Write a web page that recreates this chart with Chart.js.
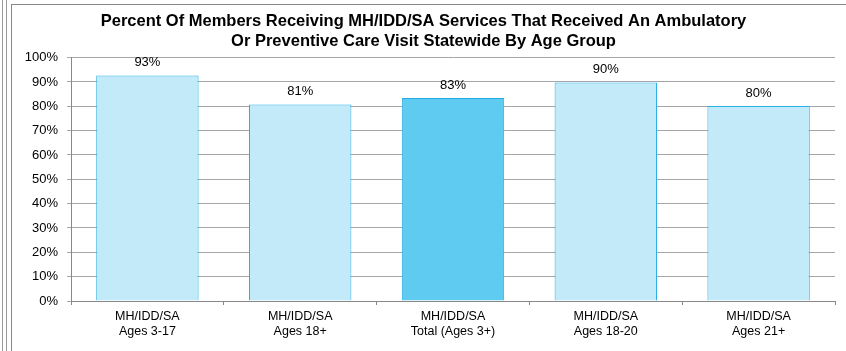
<!DOCTYPE html>
<html>
<head>
<meta charset="utf-8">
<script src="https://cdn.jsdelivr.net/npm/chart.js@4"></script>
<style>
  html, body { margin: 0; padding: 0; background: #fff; }
  body { width: 846px; height: 351px; position: relative; overflow: hidden; }
  .edge1 { position: absolute; left: 2px; top: 0; width: 1px; height: 351px; background: #999; }
  .edge2 { position: absolute; left: 6px; top: 0; width: 1px; height: 351px; background: #999; }
  .frame { position: absolute; left: 11px; top: 4px; width: 835px; height: 347px;
           border-left: 1px solid #888; border-top: 1px solid #888; box-sizing: border-box; }
  #wrap { position: absolute; left: 12px; top: 5px; width: 834px; height: 346px; }
</style>
</head>
<body>
<div class="edge1"></div>
<div class="edge2"></div>
<div class="frame"></div>
<div id="wrap"><canvas id="ambulatoryChart"></canvas></div>
<script>
Chart.defaults.font.family = 'Arial, "Liberation Sans", sans-serif'
Chart.defaults.color = '#000'

const groups = [
    ['MH/IDD/SA', 'Ages 3-17'],
    ['MH/IDD/SA', 'Ages 18+'],
    ['MH/IDD/SA', 'Total (Ages 3+)'],
    ['MH/IDD/SA', 'Ages 18-20'],
    ['MH/IDD/SA', 'Ages 21+']
]
const percents = [92.6, 80.7, 83.4, 89.8, 80.1]
const percentLabels = ['93%', '81%', '83%', '90%', '80%']
const yTicks = [0, 10, 20, 30, 40, 50, 60, 70, 80, 90, 100]

const fillColors = ['#c3eaf9', '#c3eaf9', '#5fcbf1', '#c3eaf9', '#c3eaf9']
const edgeColors = ['#26b0e6', '#26b0e6', '#22ace2', '#26b0e6', '#26b0e6']

// labels above the bars
const valueLabels = {
    id: 'valueLabels',
    afterDatasetsDraw(chart) {
        const ctx = chart.ctx
        const meta = chart.getDatasetMeta(0)
        ctx.save()
        ctx.font = '13px Arial, "Liberation Sans", sans-serif'
        ctx.fillStyle = '#000'
        ctx.textAlign = 'center'
        ctx.textBaseline = 'middle'
        meta.data.forEach((bar, i) => {
            ctx.fillText(percentLabels[i], bar.x, bar.y - 13)
        })
        ctx.restore()
    }
}

const renderChart = () => {
    const data = {
        labels: groups,
        datasets: [{
            data: percents,
            backgroundColor: fillColors,
            borderColor: edgeColors,
            borderWidth: 1,
            categoryPercentage: 0.67,
            barPercentage: 1
        }]
    }

    const options = {
        responsive: true,
        maintainAspectRatio: false,
        animation: false,
        layout: { padding: { right: 11, left: 0, bottom: 0, top: 0 } },
        plugins: {
            legend: { display: false },
            tooltip: { enabled: false },
            title: {
                display: true,
                text: ['Percent Of Members Receiving MH/IDD/SA Services That Received An Ambulatory',
                       'Or Preventive Care Visit Statewide By Age Group'],
                color: '#000',
                font: { size: 16.5, weight: 'bold' },
                lineHeight: 1.1,
                padding: { top: 7, bottom: 6 }
            }
        },
        scales: {
            x: {
                grid: { display: true, drawOnChartArea: false, drawTicks: true, tickLength: 4, color: '#888', offset: true },
                border: { color: '#888' },
                ticks: { font: { size: 12.5 }, color: '#000', padding: 4, maxRotation: 0 },
                afterFit: scale => { scale.height = 50 }
            },
            y: {
                min: 0,
                max: 100,
                afterBuildTicks: scale => { scale.ticks = yTicks.map(v => ({ value: v })) },
                grid: { color: '#a6a6a6', tickLength: 4 },
                border: { color: '#888' },
                ticks: { font: { size: 13 }, color: '#000', padding: 9, callback: v => v + '%' },
                afterFit: scale => { scale.width = 59 }
            }
        }
    }

    new Chart('ambulatoryChart', { type: 'bar', data, options, plugins: [valueLabels] })
}

renderChart()
</script>
</body>
</html>
